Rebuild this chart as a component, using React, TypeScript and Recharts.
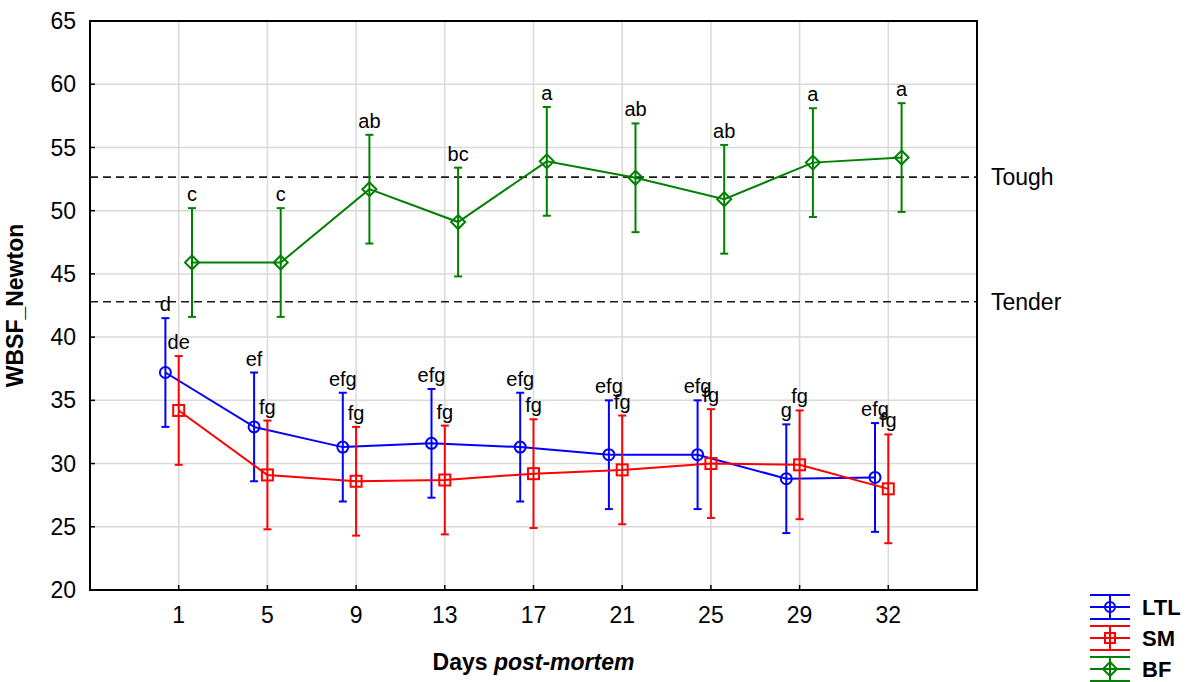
import {
  LineChart,
  Line,
  XAxis,
  YAxis,
  CartesianGrid,
  ErrorBar,
  LabelList,
  ReferenceLine,
  ReferenceArea,
} from "recharts";

const FONT = "'Liberation Sans', Arial, Helvetica, sans-serif";
const BLUE = "#0000ff";
const RED = "#ff0000";
const GREEN = "#008000";

// days post-mortem, one category slot per day
const days = ["1", "5", "9", "13", "17", "21", "25", "29", "32"];
const yTicks = [20, 25, 30, 35, 40, 45, 50, 55, 60, 65];

const ltlMean = [37.2, 32.9, 31.3, 31.6, 31.3, 30.7, 30.7, 28.8, 28.9];
const smMean = [34.2, 29.1, 28.6, 28.7, 29.2, 29.5, 30.0, 29.9, 28.0];
const bfMean = [45.9, 45.9, 51.7, 49.1, 53.9, 52.6, 50.9, 53.8, 54.2];

const ltlCI = [4.3, 4.3, 4.3, 4.3, 4.3, 4.3, 4.3, 4.3, 4.3];
const smCI = [4.3, 4.3, 4.3, 4.3, 4.3, 4.3, 4.3, 4.3, 4.3];
const bfCI = [4.3, 4.3, 4.3, 4.3, 4.3, 4.3, 4.3, 4.3, 4.3];

const ltlLetters = ["d", "ef", "efg", "efg", "efg", "efg", "efg", "g", "efg"];
const smLetters = ["de", "fg", "fg", "fg", "fg", "fg", "fg", "fg", "fg"];
const bfLetters = ["c", "c", "ab", "bc", "a", "ab", "ab", "a", "a"];

const TOUGH = 52.65;
const TENDER = 42.8;

// series are nudged sideways inside each day slot so the bars don't overlap
const buildRows = (mean: number[], ci: number[], letters: string[], shift: number) =>
  mean.map((m, i) => ({
    x: i + 1 + shift,
    mean: m,
    err: ci[i],
    top: m + ci[i],
    letter: letters[i],
  }));

const ltlRows = buildRows(ltlMean, ltlCI, ltlLetters, -0.15);
const smRows = buildRows(smMean, smCI, smLetters, 0);
const bfRows = buildRows(bfMean, bfCI, bfLetters, 0.15);

const CircleDot = (p: any) =>
  p.cx == null ? null : (
    <circle key={p.index} cx={p.cx} cy={p.cy} r={5.5} fill="none" stroke={BLUE} strokeWidth={2} />
  );

const SquareDot = (p: any) =>
  p.cx == null ? null : (
    <rect key={p.index} x={p.cx - 5.5} y={p.cy - 5.5} width={11} height={11} fill="none" stroke={RED} strokeWidth={2} />
  );

const DiamondDot = (p: any) =>
  p.cx == null ? null : (
    <polygon
      key={p.index}
      points={`${p.cx},${p.cy - 7} ${p.cx + 7},${p.cy} ${p.cx},${p.cy + 7} ${p.cx - 7},${p.cy}`}
      fill="none"
      stroke={GREEN}
      strokeWidth={2}
    />
  );

const legendItems = [
  { name: "LTL", color: BLUE, shape: "circle" },
  { name: "SM", color: RED, shape: "square" },
  { name: "BF", color: GREEN, shape: "diamond" },
];

const LegendBox = () => (
  <svg width={100} height={90} style={{ display: "block" }}>
    {legendItems.map((it, i) => {
      const cy = 13 + i * 31;
      return (
        <g key={it.name} stroke={it.color} strokeWidth={2} fill="none">
          <line x1={0} x2={40} y1={cy - 12} y2={cy - 12} />
          <line x1={0} x2={40} y1={cy} y2={cy} />
          <line x1={0} x2={40} y1={cy + 12} y2={cy + 12} />
          <line x1={20} x2={20} y1={cy - 12} y2={cy + 12} />
          {it.shape === "circle" && <circle cx={20} cy={cy} r={5} />}
          {it.shape === "square" && <rect x={15} y={cy - 5} width={10} height={10} />}
          {it.shape === "diamond" && (
            <polygon points={`20,${cy - 7} 27,${cy} 20,${cy + 7} 13,${cy}`} />
          )}
          <text
            x={52}
            y={cy + 8}
            stroke="none"
            fill="#000"
            fontFamily={FONT}
            fontWeight="bold"
            fontSize={22}
          >
            {it.name}
          </text>
        </g>
      );
    })}
  </svg>
);

const YTitle = ({ viewBox }: any) => {
  const cx = viewBox.x - 7;
  const cy = viewBox.y + viewBox.height / 2;
  return (
    <text
      x={cx}
      y={cy}
      transform={`rotate(-90 ${cx} ${cy})`}
      textAnchor="middle"
      fontFamily={FONT}
      fontWeight="bold"
      fontSize={23}
      fill="#000"
    >
      WBSF_Newton
    </text>
  );
};

const XTitle = ({ viewBox }: any) => (
  <text
    x={viewBox.x + viewBox.width / 2}
    y={viewBox.y + 80}
    textAnchor="middle"
    fontFamily={FONT}
    fontWeight="bold"
    fontSize={23}
    fill="#000"
  >
    Days <tspan fontStyle="italic">post-mortem</tspan>
  </text>
);

const tickStyle = { fontFamily: FONT, fontSize: 23, fill: "#000" };
const letterStyle = { fontFamily: FONT, fontSize: 20, fill: "#000" };

export default function App() {
  return (
    <div style={{ position: "absolute", left: 0, top: 0, width: 1188, height: 682, background: "#fff" }}>
      <LineChart
        width={1188}
        height={682}
        margin={{ top: 21, right: 211, bottom: 52, left: 30 }}
      >
        <CartesianGrid stroke="#d9d9d9" strokeWidth={1.5} />
        <XAxis
          type="number"
          dataKey="x"
          domain={[0, 10]}
          ticks={[1, 2, 3, 4, 5, 6, 7, 8, 9]}
          tickFormatter={(v: number) => days[v - 1] ?? ""}
          allowDataOverflow
          axisLine={false}
          tickSize={-5}
          tickMargin={22}
          tickLine={{ stroke: "#000", strokeWidth: 1.5 }}
          tick={tickStyle}
          height={40}
          label={<XTitle />}
        />
        <XAxis
          xAxisId="top"
          orientation="top"
          type="number"
          dataKey="x"
          domain={[0, 10]}
          ticks={[1, 2, 3, 4, 5, 6, 7, 8, 9]}
          axisLine={false}
          tick={false}
          tickSize={-5}
          tickLine={{ stroke: "#000", strokeWidth: 1.5 }}
          height={0}
        />
        <YAxis
          type="number"
          domain={[20, 65]}
          ticks={yTicks}
          allowDataOverflow
          axisLine={false}
          tickSize={-5}
          tickMargin={19}
          tickLine={{ stroke: "#000", strokeWidth: 1.5 }}
          tick={tickStyle}
          width={60}
          label={<YTitle />}
        />
        <YAxis
          yAxisId="right"
          orientation="right"
          type="number"
          domain={[20, 65]}
          ticks={yTicks}
          axisLine={false}
          tick={false}
          tickSize={-5}
          tickLine={{ stroke: "#000", strokeWidth: 1.5 }}
          width={0}
        />
        <ReferenceArea x1={0} x2={10} y1={20} y2={65} fill="none" stroke="#000" strokeWidth={2} ifOverflow="visible" />
        <ReferenceLine
          y={TOUGH}
          stroke="#1a1a1a"
          strokeWidth={1.6}
          strokeDasharray="8 5"
          label={{ value: "Tough", position: "right", offset: 14, ...tickStyle }}
        />
        <ReferenceLine
          y={TENDER}
          stroke="#1a1a1a"
          strokeWidth={1.6}
          strokeDasharray="8 5"
          label={{ value: "Tender", position: "right", offset: 14, ...tickStyle }}
        />

        <Line data={ltlRows} dataKey="mean" name="LTL" stroke={BLUE} strokeWidth={2} dot={CircleDot} activeDot={false} isAnimationActive={false}>
          <ErrorBar dataKey="err" direction="y" width={4} stroke={BLUE} strokeWidth={2} />
        </Line>
        <Line data={smRows} dataKey="mean" name="SM" stroke={RED} strokeWidth={2} dot={SquareDot} activeDot={false} isAnimationActive={false}>
          <ErrorBar dataKey="err" direction="y" width={4} stroke={RED} strokeWidth={2} />
        </Line>
        <Line data={bfRows} dataKey="mean" name="BF" stroke={GREEN} strokeWidth={2} dot={DiamondDot} activeDot={false} isAnimationActive={false}>
          <ErrorBar dataKey="err" direction="y" width={4} stroke={GREEN} strokeWidth={2} />
        </Line>

        {/* letter groups sit just above each upper whisker */}
        {[ltlRows, smRows, bfRows].map((rows, i) => (
          <Line
            key={i}
            data={rows}
            dataKey="top"
            stroke="none"
            dot={false}
            activeDot={false}
            legendType="none"
            isAnimationActive={false}
          >
            <LabelList dataKey="letter" position="top" offset={7} {...letterStyle} />
          </Line>
        ))}
      </LineChart>
      <div style={{ position: "absolute", left: 1090, top: 594 }}>
        <LegendBox />
      </div>
    </div>
  );
}
